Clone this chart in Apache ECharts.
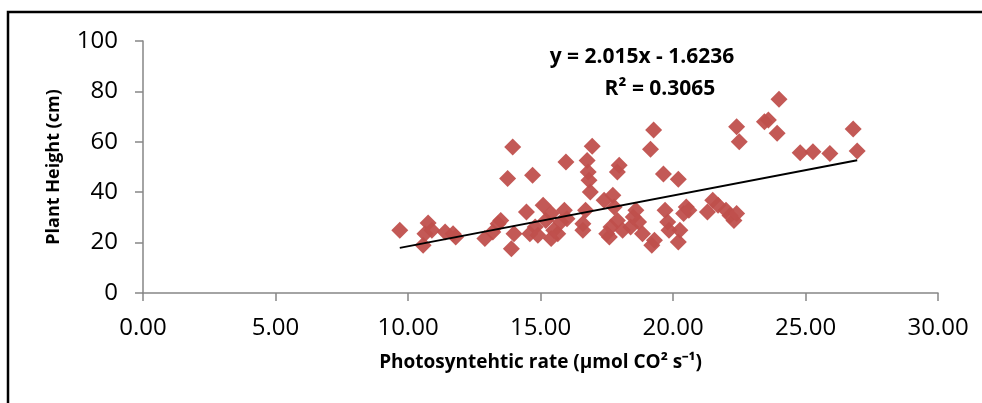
<!DOCTYPE html>
<html>
<head>
<meta charset="utf-8">
<script src="https://cdn.jsdelivr.net/npm/echarts@6/dist/echarts.min.js"></script>
<style>
html,body{margin:0;padding:0;background:#fff;}
#chart{width:982px;height:403px;}
</style>
</head>
<body>
<div id="chart"></div>
<script>
// Photosynthetic rate (x) values
const rateX = [9.69,10.57,10.76,10.64,10.9,11.4,11.8,11.7,12.9,13.2,13.4,13.5,13.76,13.95,13.9,14.0,14.47,14.7,14.6,14.8,14.9,15.1,15.2,15.4,15.4,15.5,15.65,15.77,15.9,15.96,16.0,16.6,16.6,16.7,16.76,16.8,16.83,16.88,16.95,17.4,17.5,17.6,17.66,17.73,17.78,17.9,17.97,17.9,18.1,18.4,18.5,18.6,18.7,18.85,19.2,19.15,19.27,19.3,19.64,19.7,19.8,19.85,20.2,20.2,20.26,20.4,20.5,20.6,21.3,21.5,21.7,22.0,22.15,22.3,22.4,22.4,22.5,23.45,23.6,24.0,23.93,24.8,25.28,25.92,26.8,26.95];
// Plant height (y) values
const heightY = [24.9,18.9,27.8,23.5,24.9,24.2,22.2,23.5,21.6,24.2,27.5,28.8,45.4,57.9,17.6,23.5,32.1,46.7,23.5,26.2,22.9,34.8,28.8,31.5,21.6,24.9,23.5,28.2,32.8,52.0,29.5,27.5,24.9,32.8,52.6,48.0,44.7,40.1,58.2,36.8,23.5,22.2,26.2,38.8,34.1,48.0,50.7,28.8,24.9,26.2,30.2,32.8,28.2,23.5,18.9,57.0,64.7,20.9,47.2,32.8,28.2,24.9,45.1,20.2,24.9,31.5,34.1,32.8,32.1,36.8,34.8,32.8,30.8,28.8,31.5,66.0,60.0,68.0,68.7,76.9,63.4,55.7,56.1,55.4,65.1,56.3];
// Linear trendline endpoints (y = 2.015x - 1.6236)
const trendX = [9.69, 26.95];
const trendY = [17.9, 52.7];
const xTicks = [0, 5, 10, 15, 20, 25, 30];
const yTicks = [0, 20, 40, 60, 80, 100];
const equationText = 'y = 2.015x - 1.6236';
const r2Text = 'R² = 0.3065';

const points = rateX.map((x, i) => [x, heightY[i]]);
const trend = trendX.map((x, i) => [x, trendY[i]]);

const chart = echarts.init(document.getElementById('chart'));
const axisColor = '#868686';
chart.setOption({
  animation: false,
  grid: {left: 143, right: 44, top: 41, bottom: 110},
  graphic: [
    {type: 'rect', shape: {x: 8, y: 12, width: 1100, height: 600}, style: {fill: 'none', stroke: '#000', lineWidth: 2.5}, z: 100},
    {type: 'text', x: 642, y: 57, style: {text: equationText, font: 'bold 21px "Open Sans"', fill: '#000', align: 'center', verticalAlign: 'middle'}},
    {type: 'text', x: 660, y: 89, style: {text: r2Text, font: 'bold 21px "Open Sans"', fill: '#000', align: 'center', verticalAlign: 'middle'}}
  ],
  xAxis: {
    type: 'value', min: 0, max: 30, interval: 5,
    name: 'Photosyntehtic rate (µmol CO² s⁻¹)', nameLocation: 'middle', nameGap: 60,
    nameTextStyle: {fontFamily: 'Open Sans', fontWeight: 'bold', fontSize: 19, color: '#000'},
    axisLine: {lineStyle: {color: axisColor, width: 1.5}},
    axisTick: {show: true, length: 8, lineStyle: {color: axisColor, width: 1.5}},
    splitLine: {show: false},
    axisLabel: {margin: 23, fontFamily: 'Open Sans', fontSize: 24, color: '#000',
      formatter: v => xTicks.includes(v) ? v.toFixed(2) : ''}
  },
  yAxis: {
    type: 'value', min: 0, max: 100, interval: 20,
    name: 'Plant Height (cm)', nameLocation: 'middle', nameGap: 80,
    nameTextStyle: {fontFamily: 'Open Sans', fontWeight: 'bold', fontSize: 18, color: '#000'},
    axisLine: {show: true, lineStyle: {color: axisColor, width: 1.5}},
    axisTick: {show: true, length: 8, lineStyle: {color: axisColor, width: 1.5}},
    splitLine: {show: false},
    axisLabel: {margin: 25, fontFamily: 'Open Sans', fontSize: 24, color: '#000',
      formatter: v => yTicks.includes(v) ? String(v) : ''}
  },
  series: [
    {type: 'scatter', data: points, symbol: 'diamond', symbolSize: 17,
      itemStyle: {color: '#C0504D', opacity: 0.95}, z: 2},
    {type: 'line', data: trend, symbol: 'none', lineStyle: {color: '#000', width: 2}, z: 3}
  ]
});
</script>
</body>
</html>
